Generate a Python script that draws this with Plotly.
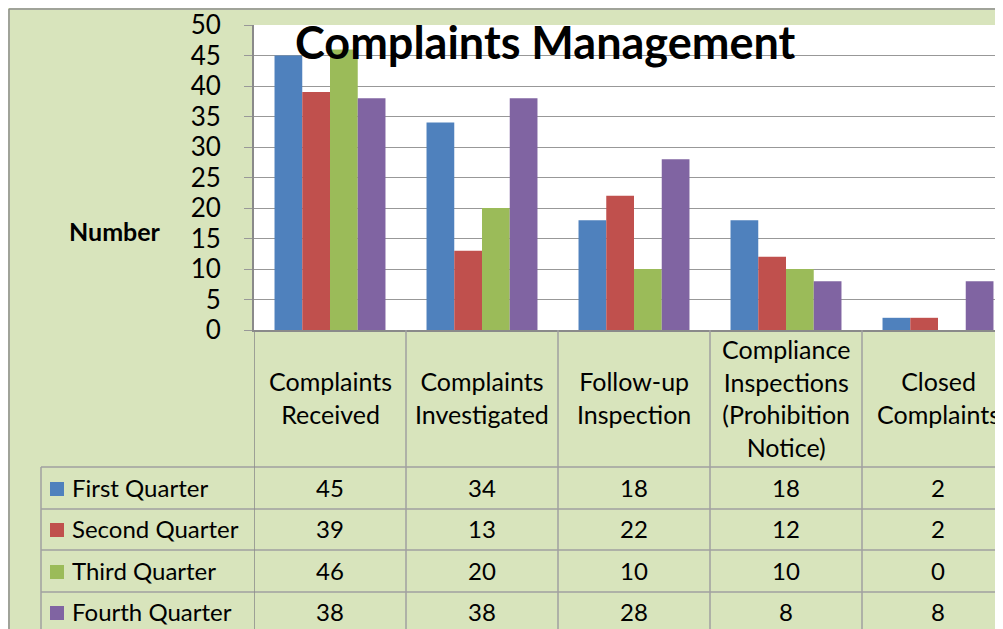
import plotly.graph_objects as go

categories = ["Complaints<br>Received", "Complaints<br>Investigated", "Follow-up<br>Inspection",
              "Compliance<br>Inspections<br>(Prohibition<br>Notice)", "Closed<br>Complaints"]
series_names = ["First Quarter", "Second Quarter", "Third Quarter", "Fourth Quarter"]
first_q = [45, 34, 18, 18, 2]
second_q = [39, 13, 22, 12, 2]
third_q = [46, 20, 10, 10, 0]
fourth_q = [38, 38, 28, 8, 8]
series_values = [first_q, second_q, third_q, fourth_q]
colors = ["#4F81BD", "#C0504D", "#9BBB59", "#8064A2"]
y_ticks = list(range(0, 55, 5))

OFF = 8  # page body margin of the browser
W, H = 1003, 629
L, T = 254 - OFF, 25 - OFF
PLOT_BOTTOM = 330 - OFF
B = H - PLOT_BOTTOM
R = 0
PW = W - L - R
PH = H - T - B
CAT_W = 152.0
FONT = "Lato"
GRID = "#989898"
AXIS = "#8A8A8A"
TLINE = "#A0A0A0"
FS = 24


def px(x):
    return (x - OFF - L) / PW


def py(y):
    return (PLOT_BOTTOM - (y - OFF)) / PH


fig = go.Figure()
xs = list(range(len(categories)))
for name, vals, c in zip(series_names, series_values, colors):
    fig.add_trace(go.Bar(x=xs, y=vals, name=name, marker=dict(color=c, line=dict(width=0))))

shapes = []
annotations = []

# chart outer border
shapes.append(dict(type="line", xref="paper", yref="paper", x0=px(9), x1=px(W + OFF), y0=py(9), y1=py(9),
                   line=dict(color="#8E8E8E", width=1.5)))
shapes.append(dict(type="line", xref="paper", yref="paper", x0=px(9), x1=px(9), y0=py(9), y1=py(H + OFF),
                   line=dict(color="#8E8E8E", width=1.5)))

# data table grid
row_tops = [467, 509, 550, 592]
for yy in row_tops:
    shapes.append(dict(type="line", xref="paper", yref="paper", x0=px(41), x1=px(W + OFF), y0=py(yy), y1=py(yy),
                       line=dict(color=TLINE, width=1.5)))
shapes.append(dict(type="line", xref="paper", yref="paper", x0=px(41), x1=px(41), y0=py(467), y1=py(H + OFF),
                   line=dict(color=TLINE, width=1.5)))
for i in range(len(categories)):
    shapes.append(dict(type="line", xref="x", yref="paper", x0=i - 0.5, x1=i - 0.5, y0=0, y1=py(H + OFF),
                       line=dict(color=TLINE if i else AXIS, width=1.5)))

# header labels
for i, cat in enumerate(categories):
    annotations.append(dict(x=i, y=py(398), xref="x", yref="paper", text=cat, showarrow=False,
                            xanchor="center", yanchor="middle",
                            font=dict(family=FONT, size=25, color="black")))

# rows
row_centers = [487, 528, 570, 611]
for name, vals, c, yc in zip(series_names, series_values, colors, row_centers):
    shapes.append(dict(type="rect", xref="paper", yref="paper", x0=px(50), x1=px(64),
                       y0=py(yc + 9), y1=py(yc - 5), fillcolor=c, line=dict(width=0)))
    annotations.append(dict(x=px(70), y=py(yc), xref="paper", yref="paper", text=name, showarrow=False,
                            xanchor="left", yanchor="middle",
                            font=dict(family=FONT, size=FS, color="black")))
    for i, v in enumerate(vals):
        annotations.append(dict(x=i, y=py(yc), xref="x", yref="paper", text=str(v), showarrow=False,
                                xanchor="center", yanchor="middle",
                                font=dict(family=FONT, size=FS, color="black")))

# axis title
annotations.append(dict(x=px(115), y=py(231), xref="paper", yref="paper", text="<b>Number</b>",
                        showarrow=False, xanchor="center", yanchor="middle",
                        font=dict(family=FONT, size=25, color="black")))
# chart title
annotations.append(dict(x=px(545), y=py(42), xref="paper", yref="paper", text="<b>Complaints Management</b>",
                        showarrow=False, xanchor="center", yanchor="middle",
                        font=dict(family=FONT, size=45, color="black")))

fig.update_layout(
    width=W, height=H,
    margin=dict(l=L, r=R, t=T, b=B, pad=0),
    paper_bgcolor="#D8E4BC",
    plot_bgcolor="white",
    barmode="group",
    bargap=0.27,
    bargroupgap=0,
    showlegend=False,
    shapes=shapes,
    annotations=annotations,
    xaxis=dict(range=[-0.5, -0.5 + PW / CAT_W], showticklabels=False, showgrid=False, zeroline=False,
               showline=True, linecolor=AXIS, linewidth=2, ticks="", fixedrange=True),
    yaxis=dict(range=[0, 50], tickvals=y_ticks, ticktext=[str(t) for t in y_ticks],
               showgrid=True, gridcolor=GRID, gridwidth=1.3, zeroline=False,
               showline=True, linecolor=AXIS, linewidth=2, ticks="outside", ticklen=8, tickcolor=GRID,
               tickfont=dict(family=FONT, size=26, color="black"), ticklabelstandoff=18),
)

fig.write_html("out.html")
